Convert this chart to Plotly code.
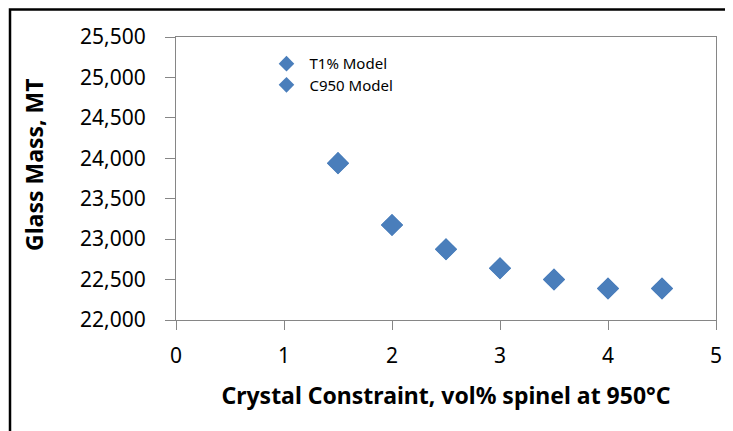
import plotly.graph_objects as go

x_vals = [1.5, 2.0, 2.5, 3.0, 3.5, 4.0, 4.5]
t1_model = [23940, 23175, 22875, 22640, 22500, 22390, 22390]
c950_model = [23940, 23175, 22875, 22640, 22500, 22390, 22390]
y_ticks = [22000, 22500, 23000, 23500, 24000, 24500, 25000, 25500]
y_labels = ["22,000", "22,500", "23,000", "23,500", "24,000", "24,500", "25,000", "25,500"]
x_ticks = [0, 1, 2, 3, 4, 5]

color = "#4a7ebb"
font = "Noto Sans"

fig = go.Figure()
fig.add_trace(go.Scatter(x=x_vals, y=t1_model, mode="markers", name="T1% Model",
                         legend="legend",
                         marker=dict(symbol="diamond", size=17, color=color)))
fig.add_trace(go.Scatter(x=x_vals, y=c950_model, mode="markers", name="C950 Model",
                         legend="legend2",
                         marker=dict(symbol="diamond", size=17, color=color)))

axis_col = "#868686"
leg_common = dict(xanchor="left", yanchor="middle", bgcolor="rgba(0,0,0,0)",
                  font=dict(size=15, family=font), itemsizing="constant",
                  itemwidth=36)
fig.update_layout(
    width=733, height=431,
    margin=dict(l=168, r=25, t=29, b=119),
    paper_bgcolor="white", plot_bgcolor="white",
    font=dict(family=font, color="black"),
    showlegend=True,
    legend=dict(x=0.162, y=0.905, **leg_common),
    legend2=dict(x=0.162, y=0.83, **leg_common),
    xaxis=dict(range=[0, 5], tickvals=x_ticks, showgrid=False, zeroline=False,
               showline=True, linecolor=axis_col, linewidth=1, mirror=True,
               ticks="outside", ticklen=9, tickcolor=axis_col,
               ticklabelstandoff=8,
               tickfont=dict(size=21, family=font),
               title=dict(text="<b>Crystal Constraint, vol% spinel at 950°C</b>",
                          font=dict(size=23, family=font), standoff=19)),
    yaxis=dict(range=[22000, 25500], tickvals=y_ticks, ticktext=y_labels,
               showgrid=False, zeroline=False,
               showline=True, linecolor=axis_col, linewidth=1, mirror=True,
               ticks="outside", ticklen=10, tickcolor=axis_col,
               ticklabelstandoff=15,
               tickfont=dict(size=21, family=font)),
    annotations=[dict(text="<b>Glass Mass, MT</b>", textangle=-90,
                      xref="paper", yref="paper", x=-0.263, y=0.548,
                      xanchor="center", yanchor="middle", showarrow=False,
                      font=dict(size=23, family=font, color="black"))],
)

# outer chart border (top and left visible)
fig.add_shape(type="path", xref="paper", yref="paper",
              path="M 2.0,1.097 L -0.3074,1.097 L -0.3074,-1.0",
              line=dict(color="black", width=2.5), layer="above")

fig.write_html("out.html")
